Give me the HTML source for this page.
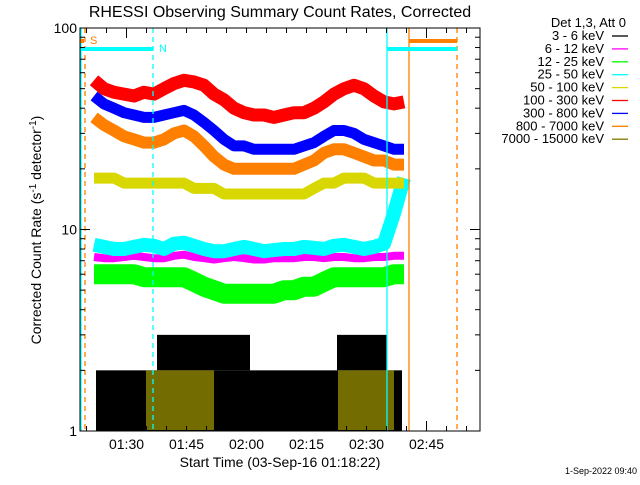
<!DOCTYPE html>
<html><head><meta charset="utf-8"><style>
body{margin:0;background:#fff;width:640px;height:480px;overflow:hidden}
svg text{font-family:"Liberation Sans",sans-serif}
</style></head><body>
<svg id="chart" width="640" height="480" viewBox="0 0 640 480" xmlns="http://www.w3.org/2000/svg">
<rect width="640" height="480" fill="#fff"/>
<text x="280" y="17" font-size="16" text-anchor="middle" fill="#000">RHESSI Observing Summary Count Rates, Corrected</text>
<g id="marks"></g>
<g id="axes"></g>
<text transform="translate(41,230) rotate(-90)" font-size="14" text-anchor="middle" fill="#000">Corrected Count Rate (s<tspan font-size="10" dy="-5">-1</tspan><tspan dy="5"> detector</tspan><tspan font-size="10" dy="-5">-1</tspan><tspan dy="5">)</tspan></text>
<text x="280" y="467" font-size="14" text-anchor="middle" fill="#000">Start Time (03-Sep-16 01:18:22)</text>
<text x="637" y="474" font-size="9" text-anchor="end" fill="#000">1-Sep-2022 09:40</text>
<g id="legend"></g>
</svg>
<script>
const times=[3.5,6,8.5,11,13.5,16,18.5,21,23.5,26,28.5,31,33.5,36,38.5,41,43.5,46,48.5,51,53.5,56,58.5,61,63.5,66,68.5,71,73.5,76,78.5,81];
const red=[55,50,48,47,46,48,47,50,53,55,54,52,47,44,40,38,37,37,36,37,38,38,40,43,47,50,52,50,46,43,42,43];
const blue=[46,42,40,38,37,36,36,37,38,39,37,34,31,28,26,26,25,25,25,25,25,26,27,29,31,31,30,28,27,26,25,25];
const orange=[36,33,31,29,28,27,27,28,30,31,29,26,23,21,20,20,20,20,20,20,20,21,22,24,25,25,24,23,22,22,21,21];
const yellow=[18,18,18,17,17,17,17,17,17,17,16,16,16,15,15,15,15,15,15,15,15,15,16,17,17,18,18,18,17,17,17,17];
const cyan=[8.4,8.2,8,8,8.2,8.4,8.3,8,8.5,8.6,8.3,8,7.8,7.8,8,8.2,8,7.8,7.9,8,8,8.2,8.1,8,8.3,8.4,8.2,8,8.2,8.5,12,18];
const magenta=[7.3,7.2,7.2,7.3,7.4,7.3,7.2,7.2,7.4,7.5,7.3,7.2,7.1,7.2,7.3,7.2,7.1,7.1,7.2,7.2,7.2,7.3,7.3,7.2,7.3,7.3,7.2,7.2,7.3,7.3,7.4,7.4];
const green=[6,6,6,6,6,5.8,5.8,5.8,5.8,5.8,5.5,5.2,5,4.8,4.8,4.8,4.8,4.8,4.8,5,5,5.2,5.2,5.5,5.8,5.8,5.8,5.8,5.8,5.8,6,6];
const blackHighStart=[19.25,64.25];const blackHighEnd=[42.5,76.75];
const oliveStart=[16.5,64.5];const oliveEnd=[33.5,78.5];
const yTicks=[1,10,100];const xTickLabels=["01:30","01:45","02:00","02:15","02:30","02:45"];const xTickMin=[11.63,26.63,41.63,56.63,71.63,86.63];
const legendLabels=["3 - 6 keV","6 - 12 keV","12 - 25 keV","25 - 50 keV","50 - 100 keV","100 - 300 keV","300 - 800 keV","800 - 7000 keV","7000 - 15000 keV"];
const legendColors=["#000","#ff00ff","#00ff00","#00ffff","#d8d800","#ff0000","#0000ff","#ff8000","#807800"];

const X0=80,X1=480,Y0=431,Y1=28;
const xs=t=>X0+t*4;
const ys=v=>Y0-(Math.log10(v))*(Y0-Y1)/2;
const NS="http://www.w3.org/2000/svg";
function mk(tag,attrs,parent){const e=document.createElementNS(NS,tag);for(const k in attrs)e.setAttribute(k,attrs[k]);parent.appendChild(e);return e;}
const marks=document.getElementById('marks'),axes=document.getElementById('axes'),legend=document.getElementById('legend');

let r=mk('rect',{x:xs(4),y:ys(2),width:xs(80.5)-xs(4),height:Y0-ys(2),fill:'#000'},marks);


for(let i=0;i<blackHighStart.length;i++){
 const b=mk('rect',{x:xs(blackHighStart[i]),y:ys(3),width:xs(blackHighEnd[i])-xs(blackHighStart[i]),height:ys(2)-ys(3),fill:'#000'},marks);
 
 
}
for(let i=0;i<oliveStart.length;i++){
 const o=mk('rect',{x:xs(oliveStart[i]),y:ys(2),width:xs(oliveEnd[i])-xs(oliveStart[i]),height:Y0-ys(2)-1,fill:'#807800',opacity:0.9},marks);
 
 
}
function series(vals,color,w,name){
 const pts=times.map((t,i)=>xs(t).toFixed(1)+','+ys(vals[i]).toFixed(1)).join(' ');
 const p=mk('polyline',{points:pts,fill:'none',stroke:color,'stroke-width':w,'stroke-linejoin':'round'},marks);
 
 
}
series(green,'#00ff00',20,'series-12-25kev');
series(magenta,'#ff00ff',8,'series-6-12kev');
series(cyan,'#00ffff',14,'series-25-50kev');
series(yellow,'#d8d800',11,'series-50-100kev');
series(orange,'#ff8000',12,'series-800-7000kev');
series(blue,'#0000ff',11,'series-300-800kev');
series(red,'#ff0000',13,'series-100-300kev');

const vl=[[81,'#00ffff',''],[85,'#ff8000','5,4'],[153,'#00ffff','5,4'],[387,'#00ffff',''],[409,'#ff8000',''],[457,'#ff8000','5,4']];
vl.forEach(v=>{const l=mk('line',{x1:v[0],x2:v[0],y1:Y1,y2:Y0,stroke:v[1],'stroke-width':1.3,'stroke-dasharray':v[2]},marks);
 
 });
[[80,153,49,'#00ffff'],[387,457,49,'#00ffff'],[409,457,41,'#ff8000'],[80,84,41,'#ff8000']].forEach(b=>{
 const l=mk('line',{x1:b[0],x2:b[1],y1:b[2],y2:b[2],stroke:b[3],'stroke-width':4},marks);
 
 });
let s=mk('text',{x:90,y:44,fill:'#ff8000','font-size':11},marks);s.textContent='S';


let n=mk('text',{x:159,y:52,fill:'#00ffff','font-size':11},marks);n.textContent='N';



const fr=mk('rect',{x:X0,y:Y1,width:X1-X0,height:Y0-Y1,fill:'none',stroke:'#000','stroke-width':1},axes);


for(let d=0;d<2;d++)for(let m=1;m<=9;m++){const v=Math.pow(10,d)*m;const y=ys(v);const L=m===1?10:5;
 mk('line',{x1:X0,x2:X0+L,y1:y,y2:y,stroke:'#000'},axes);mk('line',{x1:X1,x2:X1-L,y1:y,y2:y,stroke:'#000'},axes);}
yTicks.forEach(v=>{const t=mk('text',{x:X0-3,y:ys(v)+5,'font-size':14,'text-anchor':'end',fill:'#000'},axes);t.textContent=v;
 
 });
for(let m=1.63;m<100;m+=5){const x=xs(m);if(x>X1)break;const L=Math.abs((m-11.63)%15)<0.01?10:5;
 mk('line',{x1:x,x2:x,y1:Y0,y2:Y0-L,stroke:'#000'},axes);mk('line',{x1:x,x2:x,y1:Y1,y2:Y1+L,stroke:'#000'},axes);}
xTickLabels.forEach((lab,i)=>{const t=mk('text',{x:xs(xTickMin[i]),y:449,'font-size':14,'text-anchor':'middle',fill:'#000'},axes);t.textContent=lab;
 
 });

let lt=mk('text',{x:626,y:27,'font-size':13,'text-anchor':'end',fill:'#000'},legend);lt.textContent='Det 1,3, Att 0';


legendLabels.forEach((lab,i)=>{const y=40+i*12.9;
 const t=mk('text',{x:604,y:y,'font-size':13,'text-anchor':'end',fill:'#000'},legend);t.textContent=lab;
 
 
 mk('line',{x1:612,x2:628,y1:y-4,y2:y-4,stroke:legendColors[i],'stroke-width':1.3},legend);});
</script>
</body></html>
